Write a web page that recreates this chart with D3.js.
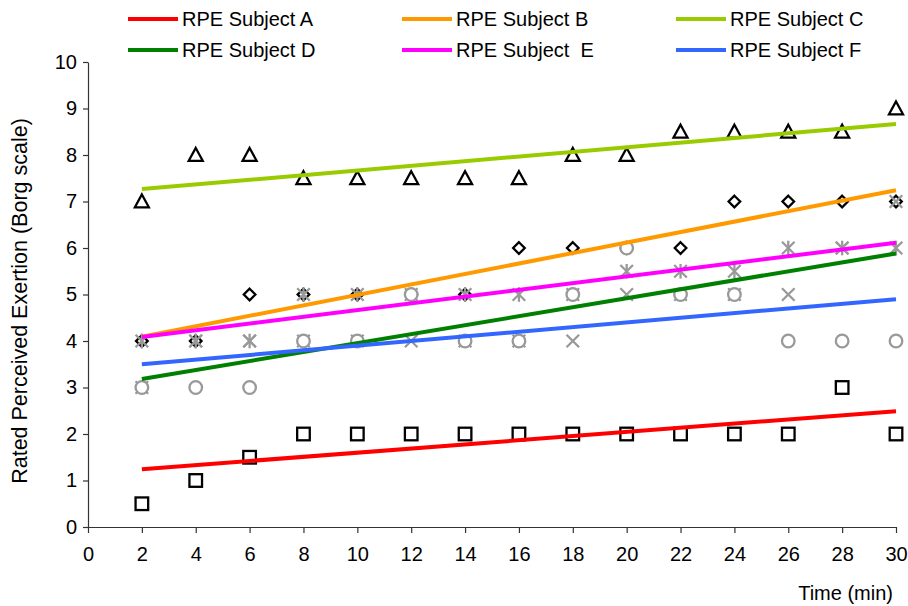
<!DOCTYPE html>
<html>
<head>
<meta charset="utf-8">
<script src="https://cdn.jsdelivr.net/npm/d3@7"></script>
<style>
  html, body { margin: 0; padding: 0; background: #fff; }
  svg { display: block; font-family: "Liberation Sans", Arial, sans-serif; }
  text { white-space: pre; }
</style>
</head>
<body>
<svg id="chart" width="908" height="606"></svg>
<script>
// ---- data ----
const times = [2, 4, 6, 8, 10, 12, 14, 16, 18, 20, 22, 24, 26, 28, 30];
const subjectA = [0.5, 1, 1.5, 2, 2, 2, 2, 2, 2, 2, 2, 2, 2, 3, 2];
const subjectB = [4, 4, 5, 5, 5, 5, 5, 6, 6, 6, 6, 7, 7, 7, 7];
const subjectC = [7, 8, 8, 7.5, 7.5, 7.5, 7.5, 7.5, 8, 8, 8.5, 8.5, 8.5, 8.5, 9];
const subjectD = [3, 4, 4, 4, 4, 4, 4, 4, 4, 5, 5, 5, 5, 6, 7];
const subjectE = [4, 4, 4, 5, 5, 5, 5, 5, 5, 5.5, 5.5, 5.5, 6, 6, 6];
const subjectF = [3, 3, 3, 4, 4, 5, 4, 4, 5, 6, 5, 5, 4, 4, 4];
const seriesNames = ["RPE Subject A", "RPE Subject B", "RPE Subject C", "RPE Subject D", "RPE Subject  E", "RPE Subject F"];
const xTicks = [0, 2, 4, 6, 8, 10, 12, 14, 16, 18, 20, 22, 24, 26, 28, 30];
const yTicks = [0, 1, 2, 3, 4, 5, 6, 7, 8, 9, 10];
const xTitle = "Time (min)";
const yTitle = "Rated Perceived Exertion (Borg scale)";

// ---- styles ----
const lineColors = ["#ff0000", "#ff9900", "#99cc00", "#008000", "#ff00ff", "#3366ff"];
const markerTypes = ["square", "diamond", "triangle", "cross", "star", "circle"];
const markerColors = ["#000", "#000", "#000", "#999", "#999", "#999"];

const series = [subjectA, subjectB, subjectC, subjectD, subjectE, subjectF].map((vals, i) => ({
  name: seriesNames[i], values: vals, color: lineColors[i], marker: markerTypes[i], mcolor: markerColors[i]
}));

const svg = d3.select("#chart");
const x = d3.scaleLinear().domain([0, 30]).range([88, 896]);
const y = d3.scaleLinear().domain([0, 10]).range([527, 62]);

// axes
const yAxis = d3.axisLeft(y).tickValues(yTicks).tickSize(5).tickSizeOuter(0).tickPadding(6);
const xAxis = d3.axisBottom(x).tickValues(xTicks).tickSize(6).tickSizeOuter(0).tickPadding(14);
const gy = svg.append("g").attr("transform", "translate(88,0)").call(yAxis);
const gx = svg.append("g").attr("transform", "translate(0,527)").call(xAxis);
[gx, gy].forEach(g => {
  g.selectAll("path, line").attr("stroke", "#333").attr("stroke-width", 1.2);
  g.selectAll("text").attr("font-size", 20).attr("fill", "#000")
    .attr("font-family", "'Liberation Sans', Arial, sans-serif");
});

// titles
svg.append("text").attr("x", 893).attr("y", 600).attr("text-anchor", "end")
  .attr("font-size", 20).text(xTitle);
svg.append("text").attr("transform", "translate(27,301) rotate(-90)").attr("text-anchor", "middle")
  .attr("font-size", 21.5).text(yTitle);

// markers
function drawMarker(g, type, cx, cy, color) {
  const s = 6.3;
  if (type === "square") {
    g.append("rect").attr("x", cx - s).attr("y", cy - s).attr("width", 2 * s).attr("height", 2 * s)
      .attr("fill", "#fff").attr("stroke", color).attr("stroke-width", 2.3);
  } else if (type === "diamond") {
    const d = 5.8;
    g.append("path").attr("d", `M${cx},${cy - d}L${cx + d},${cy}L${cx},${cy + d}L${cx - d},${cy}Z`)
      .attr("fill", "#fff").attr("stroke", color).attr("stroke-width", 2.3);
  } else if (type === "triangle") {
    g.append("path").attr("d", `M${cx},${cy - 7}L${cx + 7},${cy + 5.8}L${cx - 7},${cy + 5.8}Z`)
      .attr("fill", "#fff").attr("stroke", color).attr("stroke-width", 2.3);
  } else if (type === "cross" || type === "star") {
    g.append("path").attr("d", `M${cx - s},${cy - s}L${cx + s},${cy + s}M${cx - s},${cy + s}L${cx + s},${cy - s}`)
      .attr("stroke", color).attr("stroke-width", 2.3).attr("fill", "none");
    if (type === "star") {
      g.append("path").attr("d", `M${cx},${cy - s - 1}L${cx},${cy + s + 1}`)
        .attr("stroke", color).attr("stroke-width", 2.3);
    }
  } else if (type === "circle") {
    g.append("circle").attr("cx", cx).attr("cy", cy).attr("r", 6.3)
      .attr("fill", "#fff").attr("stroke", color).attr("stroke-width", 2.3);
  }
}

const gm = svg.append("g");
series.forEach(s => {
  s.values.forEach((v, i) => drawMarker(gm, s.marker, x(times[i]), y(v), s.mcolor));
});

// linear trend lines (least squares) over data range
function trend(vals) {
  const n = vals.length;
  const mx = d3.mean(times), my = d3.mean(vals);
  let num = 0, den = 0;
  for (let i = 0; i < n; i++) { num += (times[i] - mx) * (vals[i] - my); den += (times[i] - mx) ** 2; }
  const b = num / den, a = my - b * mx;
  const x0 = d3.min(times), x1 = d3.max(times);
  return [[x0, a + b * x0], [x1, a + b * x1]];
}
const line = d3.line().x(d => x(d[0])).y(d => y(d[1]));
const gl = svg.append("g");
series.forEach(s => {
  gl.append("path").attr("d", line(trend(s.values))).attr("stroke", s.color)
    .attr("stroke-width", 4).attr("fill", "none");
});

// legend
const legX = [128, 402, 676];
const legY = [19, 50];
series.forEach((s, i) => {
  const lx = legX[i % 3], ly = legY[Math.floor(i / 3)];
  svg.append("line").attr("x1", lx).attr("x2", lx + 50).attr("y1", ly).attr("y2", ly)
    .attr("stroke", s.color).attr("stroke-width", 4);
  svg.append("text").attr("x", lx + 54).attr("y", ly).attr("dy", "0.36em")
    .attr("font-size", 20).text(s.name);
});
</script>
</body>
</html>
